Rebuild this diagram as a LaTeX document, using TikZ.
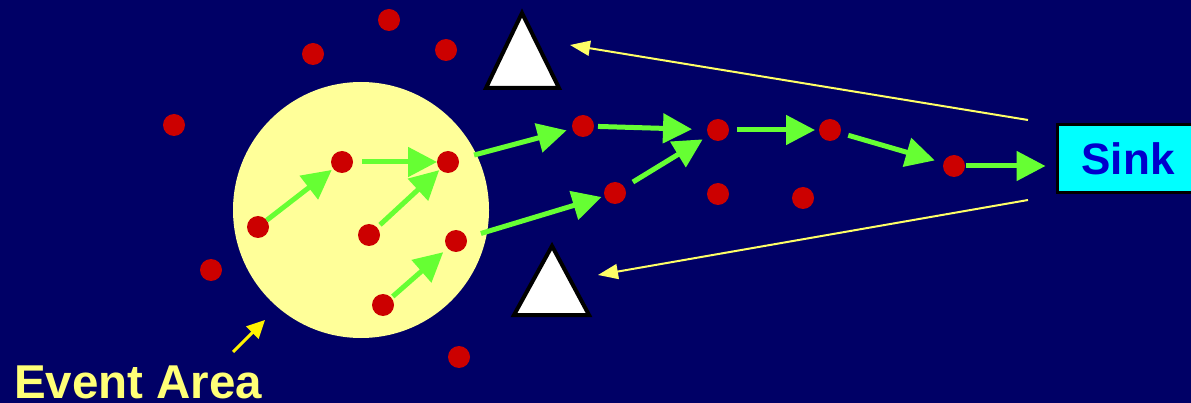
\documentclass[tikz,border=0pt]{standalone}
\usepackage{fontspec}
\setmainfont{Liberation Sans}
\usetikzlibrary{arrows.meta}
\definecolor{bg}{HTML}{000066}
\definecolor{dotred}{HTML}{CC0000}
\definecolor{areafill}{HTML}{FFFF99}
\definecolor{garr}{HTML}{66FF33}
\definecolor{yline}{HTML}{FFFF66}
\definecolor{ytext}{HTML}{FFFF77}
\definecolor{sinkfill}{HTML}{00FFFF}
\definecolor{sinktext}{HTML}{0000CC}
\tikzset{
  dot/.style={circle, fill=dotred, minimum size=22pt, inner sep=0pt, outer sep=0pt},
  garrow/.style={draw=garr, line width=5pt, -{Triangle[length=29pt,width=29pt]}},
  yarrow/.style={draw=yline, line width=2pt, -{Triangle[length=20pt,width=15pt]}},
  anchorbox/.style={draw=black, line width=4pt, fill=white, line join=miter},
}
\begin{document}
\begin{tikzpicture}[x=1pt,y=-1pt]
\useasboundingbox (0,0) rectangle (1191,403);
\clip (0,0) rectangle (1191,403);
\fill[bg] (0,0) rectangle (1191,403);
% event area
\node[circle, fill=areafill, minimum size=256pt, inner sep=0pt] (area) at (361,210) {};
% anchor triangles
\draw[anchorbox] (522,13) -- (559,88) -- (486,88) -- cycle;
\draw[anchorbox] (552,246) -- (589,315) -- (514,315) -- cycle;
\coordinate (t1) at (570,45);
\coordinate (t2) at (598,275);
% sink
\node[draw=black, line width=3pt, fill=sinkfill, minimum width=142pt, minimum height=68pt, inner sep=0pt,
      font=\fontsize{44}{48}\selectfont\bfseries, text=sinktext] (sink) at (1128,159) {Sink};
\coordinate (s1) at (1028,120);
\coordinate (s2) at (1028,200);
% dots outside
\node[dot] (o1) at (389,20) {};
\node[dot] (o2) at (313,54) {};
\node[dot] (o3) at (446,50) {};
\node[dot] (o4) at (174,125) {};
\node[dot] (o5) at (211,270) {};
\node[dot] (o6) at (459,357) {};
\node[dot] (o7) at (718,194) {};
\node[dot] (o8) at (803,198) {};
% dots inside
\node[dot] (a1) at (258,227) {};
\node[dot] (a2) at (342,162) {};
\node[dot] (a3) at (448,162) {};
\node[dot] (a4) at (369,235) {};
\node[dot] (a5) at (456,241) {};
\node[dot] (a6) at (383,305) {};
% path dots
\node[dot] (p1) at (583,126) {};
\node[dot] (p2) at (615,193) {};
\node[dot] (p3) at (718,130) {};
\node[dot] (p4) at (830,130) {};
\node[dot] (p5) at (954,166) {};
% green arrows
\draw[garrow, shorten <=0pt, shorten >=2pt] (a1) -- (a2);
\draw[garrow, shorten <=9pt, shorten >=0pt] (a2) -- (a3);
\draw[garrow, shorten <=4pt, shorten >=1pt] (a4) -- (a3);
\draw[garrow, shorten <=2pt, shorten >=6pt] (a6) -- (a5);
\draw[garrow, shorten <=16pt, shorten >=6pt] (a3) -- (p1);
\draw[garrow, shorten <=15pt, shorten >=3pt] (a5) -- (p2);
\draw[garrow, shorten <=4pt, shorten >=15pt] (p1) -- (p3);
\draw[garrow, shorten <=10pt, shorten >=7pt] (p2) -- (p3);
\draw[garrow, shorten <=8pt, shorten >=4pt] (p3) -- (p4);
\draw[garrow, shorten <=8pt, shorten >=9pt] (p4) -- (p5);
\draw[garrow, shorten <=1pt, shorten >=10pt] (p5) -- (sink.west |- p5);
% yellow lines
\draw[yarrow] (s1) -- (t1);
\draw[yarrow] (s2) -- (t2);
% label
\node[anchor=base west, inner sep=0pt, text=ytext, font=\fontsize{47.5}{50}\selectfont\bfseries] (lbl) at (14,398) {Event Area};
\coordinate (la) at (233,352);
\coordinate (lb) at (265,320);
\draw[draw=yellow, line width=3pt, -{Triangle[length=18pt,width=17pt]}] (la) -- (lb);
\end{tikzpicture}
\end{document}
